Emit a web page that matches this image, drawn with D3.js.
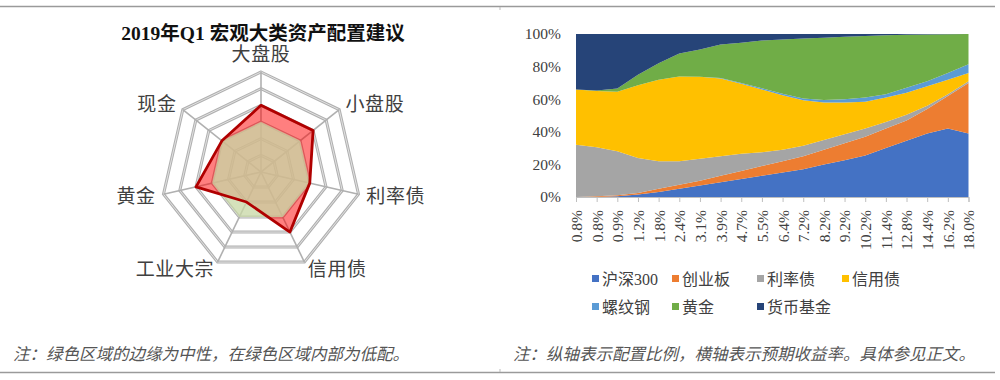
<!DOCTYPE html>
<html><head><meta charset="utf-8">
<script src="https://cdn.jsdelivr.net/npm/d3@7/dist/d3.min.js"></script>
<style>
html,body{margin:0;padding:0;background:#fff;}
svg{display:block;}
</style></head>
<body>
<svg id="c" width="1000" height="380"></svg>
<script>
// ---------- DATA ----------
const radarTitle = "2019年Q1 宏观大类资产配置建议";
const radarAxes = ["大盘股","小盘股","利率债","信用债","工业大宗","黄金","现金"];
const radarRecommend = [4,4,3,4,2,4,3];
const radarNeutral = [3,3,3,3,3,3,3];
const radarLevels = [1,2,3,4,5,6];

const xLabels = ["0.8%","0.8%","0.9%","1.2%","1.8%","2.4%","3.1%","3.9%","4.7%","5.5%","6.4%","7.2%","8.2%","9.2%","10.2%","11.4%","12.8%","14.4%","16.2%","18.0%"];
const seriesNames = ["沪深300","创业板","利率债","信用债","螺纹钢","黄金","货币基金"];
const hs300   = [0,0,0.5,1.5,3,5,7,9,11,13,15,17,20,22.5,25.5,30,34.5,39,42,39];
const cyb     = [0,0.5,0.5,1,2,2.5,3,4,5,6,7,8,9,10.5,11.5,12,12.5,15,20,31];
const rateBond= [32,30,27,21.5,17,14.5,13.5,12,10.5,8.5,7,6.5,6,5.5,5,4,3.5,2,1,1];
const credit  = [34,34.5,36.5,44.5,50,52,50.3,47.7,43,38.5,33.5,27.9,23,19.5,16.5,15,13.5,12,9,5];
const rebar   = [0,0,0,0,0,0,0,0.3,0.5,0.7,0.8,1.1,1.5,2,2.5,2,3,3,4,5.5];
const gold    = [0,0.3,2,6.5,10,14,16.7,20.5,24.7,29.3,33.4,36.8,38.2,38.3,37.8,36.2,32.5,28.7,23.9,18.5];
const mmf     = [34,34.7,33.5,25,18,12,9.5,6.5,5.3,4,3.3,2.7,2.3,1.7,1.2,0.8,0.5,0.3,0.1,0];
const yTicks = [0,20,40,60,80,100];
const seriesColors = ["#4472C4","#ED7D31","#A5A5A5","#FFC000","#5B9BD5","#70AD47","#264478"];
const noteLeft = "注：绿色区域的边缘为中性，在绿色区域内部为低配。";
const noteRight = "注：纵轴表示配置比例，横轴表示预期收益率。具体参见正文。";

// ---------- SETUP ----------
const svg = d3.select("#c");
const serif = "'Liberation Serif','Times New Roman','Noto Sans CJK SC',serif";
const cjk = "'Liberation Serif','Noto Sans CJK SC',sans-serif";

// frame lines
svg.append("line").attr("x1",0).attr("x2",995).attr("y1",6.5).attr("y2",6.5).attr("stroke","#9a9a9a").attr("stroke-width",1.5);
svg.append("line").attr("x1",0).attr("x2",995).attr("y1",372.5).attr("y2",372.5).attr("stroke","#9a9a9a").attr("stroke-width",1.5);
svg.append("line").attr("x1",500).attr("x2",500).attr("y1",7).attr("y2",10).attr("stroke","#bbb");
svg.append("line").attr("x1",500).attr("x2",500).attr("y1",369).attr("y2",372).attr("stroke","#bbb");

// ---------- RADAR ----------
const cx = 261, cy = 172, R = 100;
const rScale = d3.scaleLinear().domain([0, d3.max(radarLevels)]).range([0, R]);
const n = radarAxes.length;
const ang = i => i * 2 * Math.PI / n;
const pt = (i, v) => [cx + rScale(v) * Math.sin(ang(i)), cy - rScale(v) * Math.cos(ang(i))];
const poly = vals => vals.map((v,i) => pt(i,v));
const lineGen = d3.line().curve(d3.curveLinearClosed);

const rg = svg.append("g");
// rings (double-line look)
radarLevels.forEach(l => {
  const d = lineGen(radarAxes.map((_,i)=>pt(i,l)));
  rg.append("path").attr("d", d).attr("fill","none").attr("stroke","#b0b0b0").attr("stroke-width",3);
  rg.append("path").attr("d", d).attr("fill","none").attr("stroke","#e6e6e6").attr("stroke-width",0.9);
});
// spokes
radarAxes.forEach((_,i) => {
  const p = pt(i, d3.max(radarLevels));
  rg.append("line").attr("x1",cx).attr("y1",cy).attr("x2",p[0]).attr("y2",p[1])
    .attr("stroke","#b0b0b0").attr("stroke-width",1.6);
});
// recommendation fill
rg.append("path").attr("d", lineGen(poly(radarRecommend)))
  .attr("fill","rgb(255,0,0)").attr("fill-opacity",0.5).attr("stroke","none");
// neutral fill
rg.append("path").attr("d", lineGen(poly(radarNeutral)))
  .attr("fill","rgb(200,215,165)").attr("fill-opacity",0.76).attr("stroke","none");
// recommendation outline
rg.append("path").attr("d", lineGen(poly(radarRecommend)))
  .attr("fill","none").attr("stroke","#B00000").attr("stroke-width",2.8).attr("stroke-linejoin","round");

// labels
radarAxes.forEach((name,i) => {
  const p = pt(i, d3.max(radarLevels) * 1.08);
  const s = Math.sin(ang(i));
  let anchor = Math.abs(s) < 0.1 ? "middle" : (s > 0 ? "start" : "end");
  let y = p[1];
  if (Math.abs(s) < 0.1) y = p[1] - 10;
  rg.append("text").attr("x", p[0]).attr("y", y)
    .attr("text-anchor", anchor).attr("dominant-baseline","central")
    .attr("font-family", cjk).attr("font-size", 19).attr("letter-spacing", 0.6).attr("fill","#404040")
    .text(name);
});
// title
svg.append("text").attr("x",263).attr("y",40).attr("text-anchor","middle")
  .attr("font-family", serif).attr("font-weight","bold").attr("font-size",19.5).attr("fill","#111")
  .text(radarTitle);

// ---------- STACKED AREA ----------
const x = d3.scalePoint().domain(d3.range(xLabels.length)).range([576, 968.5]);
const y = d3.scaleLinear().domain([0,100]).range([197, 34]);
const seriesData = [hs300, cyb, rateBond, credit, rebar, gold, mmf];
const table = xLabels.map((_,i) => {
  const o = {i};
  seriesNames.forEach((k,j) => o[k] = seriesData[j][i]);
  return o;
});
const stacked = d3.stack().keys(seriesNames)(table);
const area = d3.area().x(d => x(d.data.i)).y0(d => y(d[0])).y1(d => y(d[1]));
const ag = svg.append("g");
stacked.forEach((s,j) => {
  ag.append("path").attr("d", area(s)).attr("fill", seriesColors[j]);
});
// x axis
const xAxis = d3.axisBottom(x).tickSize(5).tickFormat(i => xLabels[i]);
const xg = svg.append("g").attr("transform","translate(0,197)").call(xAxis);
xg.select(".domain").attr("stroke","#bfbfbf");
xg.selectAll(".tick line").attr("stroke","#bfbfbf");
xg.selectAll(".tick text")
  .attr("font-family", serif).attr("font-size", 15.5).attr("fill","#404040")
  .attr("transform","rotate(-90)").attr("text-anchor","end")
  .attr("x",-13).attr("y",0).attr("dy","0.35em");
// y axis
const yAxis = d3.axisLeft(y).tickValues(yTicks).tickSize(0).tickPadding(15).tickFormat(d => d + "%");
const yg = svg.append("g").attr("transform","translate(576,0)").call(yAxis);
yg.select(".domain").remove();
yg.selectAll(".tick text").attr("font-family", serif).attr("font-size",15.5).attr("fill","#404040");

// legend
const legendRows = [[0,1,2,3],[4,5,6]];
const legX = [592, 672, 757, 842];
const legY = [279, 307];
legendRows.forEach((row,ri) => {
  row.forEach((si,ci) => {
    svg.append("rect").attr("x", legX[ci]).attr("y", legY[ri]-4).attr("width",7).attr("height",7).attr("fill", seriesColors[si]);
    svg.append("text").attr("x", legX[ci]+10).attr("y", legY[ri]).attr("dominant-baseline","central")
      .attr("font-family", cjk).attr("font-size",16).attr("fill","#404040").text(seriesNames[si]);
  });
});

// notes
svg.append("text").attr("x",13).attr("y",354).attr("dominant-baseline","central")
  .attr("font-family", cjk).attr("font-size",16.5).attr("font-style","italic").attr("fill","#555").text(noteLeft);
svg.append("text").attr("x",513).attr("y",354).attr("dominant-baseline","central")
  .attr("font-family", cjk).attr("font-size",16.5).attr("font-style","italic").attr("fill","#555").text(noteRight);
</script>
</body></html>
